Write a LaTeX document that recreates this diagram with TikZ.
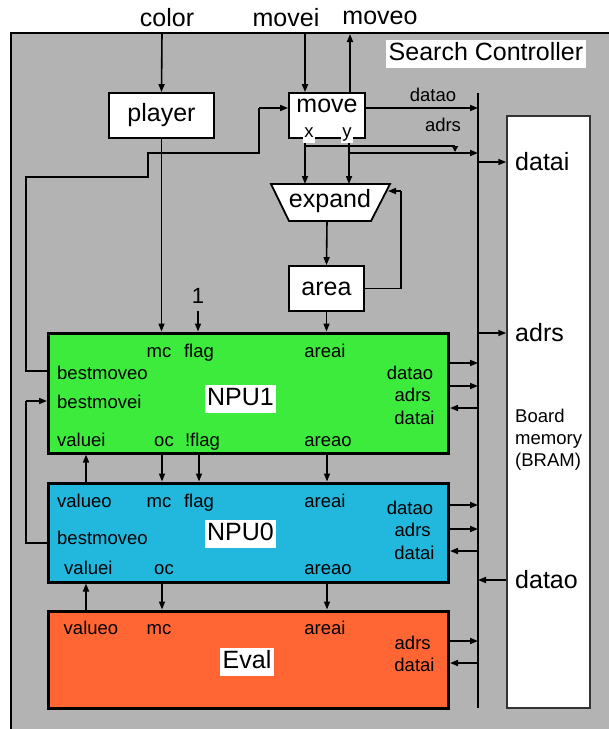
\documentclass[tikz,border=0pt]{standalone}
\usepackage{fontspec}
\setmainfont{Liberation Sans}
\usetikzlibrary{arrows.meta}
\definecolor{bggray}{HTML}{B3B3B3}
\definecolor{npugreen}{HTML}{3DEB3D}
\definecolor{npucyan}{HTML}{22B8DD}
\definecolor{evalorange}{HTML}{FF6633}
\begin{document}
\begin{tikzpicture}[x=1pt,y=-1pt,
  bigtxt/.style={font=\fontsize{25}{28}\selectfont, inner sep=0pt},
  smalltxt/.style={font=\fontsize{18.5}{22}\selectfont, inner sep=0pt, text height=13.3pt, text depth=0pt},
  wbox/.style={draw=black, line width=1.8pt, fill=white, inner sep=0pt},
  unitbox/.style={draw=black, line width=3pt, inner sep=0pt, minimum width=400pt},
  tag/.style={bigtxt, fill=white, inner sep=2.5pt, text height=18pt, text depth=5pt},
  arr/.style={line width=1.6pt, -{Triangle[length=8pt,width=6pt]}},
  wire/.style={line width=1.6pt},
]
\useasboundingbox (0,0) rectangle (609,729);
% frame of the search controller
\fill[bggray] (11,33) rectangle (609,729);
\draw[line width=2pt] (609,33) -- (11,33) -- (11,729);

% outer labels
\node[bigtxt] (color) at (167,18) {color};
\node[bigtxt] (movei) at (286,18) {movei};
\node[bigtxt] (moveo) at (380,18) {moveo};
\node[tag] (sc) at (486,53.5) {Search Controller};

% coordinates
\coordinate (colorIn) at (162,33);
\coordinate (moveiIn) at (305,33);
\coordinate (moveoOut) at (350,34);
\coordinate (busT) at (478,93);
\coordinate (busB) at (478,708);
\coordinate (mx) at (305,138);
\coordinate (my) at (349,138);
\coordinate (expTop) at (327,184);
\coordinate (expBot) at (327,221);
\coordinate (expFb) at (388,191);
\coordinate (fbC) at (401,191);
\coordinate (hX) at (305,146);
\coordinate (adrT) at (455,152);
\coordinate (hY) at (349,153);
\coordinate (lp1) at (26,177);
\coordinate (lp2) at (148,153);
\coordinate (lp3) at (259,108);
\coordinate (lp4) at (26,401);
\coordinate (oneA) at (198,311);
\coordinate (colVa) at (86,0);
\coordinate (colMc) at (162,0);
\coordinate (colFl) at (199,0);
\coordinate (colAr) at (327,0);
\coordinate (bDo) at (478,108);
\coordinate (bA) at (478,153);
\coordinate (bDi) at (478,162);
\coordinate (bAd) at (478,333);
\coordinate (bMo) at (478,580);
\coordinate (b1a) at (478,363);
\coordinate (b1b) at (478,386);
\coordinate (b1c) at (478,408);
\coordinate (b0a) at (478,505);
\coordinate (b0b) at (478,529);
\coordinate (b0c) at (478,551);
\coordinate (bea) at (478,641);
\coordinate (beb) at (478,663);
\coordinate (bmoA) at (0,371);
\coordinate (bmoB) at (0,543);

% board memory
\node[draw=black!80, line width=1.5pt, fill=white, minimum width=83pt, minimum height=592pt] (mem) at (548.5,412) {};
\node[bigtxt, anchor=west] (mdatai) at (515,162) {datai};
\node[bigtxt, anchor=west] (madrs) at (515,333) {adrs};
\node[bigtxt, anchor=west] (mdatao) at (515,580) {datao};
\node[font=\fontsize{18.5}{22}\selectfont, inner sep=0pt, align=left, anchor=west] (mlbl) at (515,440) {Board\\memory\\(BRAM)};

% bus
\draw[wire] (busT) -- (busB);

% small boxes
\node[wbox, bigtxt, minimum width=105pt, minimum height=45pt] (player) at (161.5,115.5) {player};
\node[wbox, minimum width=76pt, minimum height=45pt] (move) at (327,115.5) {};
\node[bigtxt] (movetxt) at (327,106) {move};
\draw[wbox] (271,184) -- (390,184) -- (371,221) -- (289,221) -- cycle;
\node[bigtxt] (expand) at (330,201) {expand};
\node[wbox, bigtxt, minimum width=75pt, minimum height=45pt] (area) at (326.5,288.5) {area};
\node[font=\fontsize{22}{24}\selectfont, inner sep=0pt] (one) at (198,296) {1};

% top connectors
\draw[arr] (colorIn) -- (player.north);
\draw[arr] (moveiIn) -- (moveiIn |- move.north);
\draw[arr] (moveoOut |- move.north) -- (moveoOut);
\draw[arr] (move.east |- bDo) -- (bDo);
\node[smalltxt] (tdatao) at (433,95) {datao};
\node[smalltxt] (tadrs) at (443,125) {adrs};
\draw[arr] (mx) -- (mx |- expTop);
\draw[arr] (my) -- (my |- expTop);
\draw[wire] (hX) -- (hX -| adrT);
\draw[line width=1.6pt, -{Triangle[length=6pt,width=6pt]}] (hX -| adrT) -- (adrT);
\draw[arr] (hY) -- (bA);
\node[smalltxt, fill=white, inner xsep=1pt, inner ysep=1pt, text depth=3.7pt] (xl) at (309,133) {x};
\node[smalltxt, fill=white, inner xsep=1pt, inner ysep=1pt, text depth=3.7pt] (yl) at (347,133) {y};
\draw[arr] (bDi) -- (mem.west |- bDi);
\draw[arr] (bAd) -- (mem.west |- bAd);
\draw[arr] (mem.west |- bMo) -- (bMo);

% expand / area
\draw[arr] (expBot) -- (area.north);
\draw[wire] (area.east) -| (fbC);
\draw[arr] (fbC) -- (expFb);

% units
\node[unitbox, fill=npugreen, minimum height=120pt] (npu1) at (248.5,393) {};
\node[unitbox, fill=npucyan, minimum height=99pt] (npu0) at (248.5,532.5) {};
\node[unitbox, fill=evalorange, minimum height=97pt] (eval) at (248.5,659.5) {};

\draw[arr] (player.south) -- (player.south |- npu1.north);
\draw[arr] (area.south) -- (area.south |- npu1.north);
\draw[arr] (oneA) -- (oneA |- npu1.north);

% left loops
\draw[wire] (npu1.west |- bmoA) -| (lp1) -| (lp2) -| (lp3);
\draw[arr] (lp3) -- (move.west |- lp3);
\draw[wire] (npu0.west |- bmoB) -| (lp4);
\draw[arr] (lp4) -- (npu1.west |- lp4);

% between units
\draw[arr] (npu0.north -| colVa) -- (npu1.south -| colVa);
\draw[arr] (npu1.south -| colMc) -- (npu0.north -| colMc);
\draw[arr] (npu1.south -| colFl) -- (npu0.north -| colFl);
\draw[arr] (npu1.south -| colAr) -- (npu0.north -| colAr);
\draw[arr] (eval.north -| colVa) -- (npu0.south -| colVa);
\draw[arr] (npu0.south -| colMc) -- (eval.north -| colMc);
\draw[arr] (npu0.south -| colAr) -- (eval.north -| colAr);

% bus links of units
\draw[arr] (npu1.east |- b1a) -- (b1a);
\draw[arr] (npu1.east |- b1b) -- (b1b);
\draw[arr] (b1c) -- (npu1.east |- b1c);
\draw[arr] (npu0.east |- b0a) -- (b0a);
\draw[arr] (npu0.east |- b0b) -- (b0b);
\draw[arr] (b0c) -- (npu0.east |- b0c);
\draw[arr] (eval.east |- bea) -- (bea);
\draw[arr] (beb) -- (eval.east |- beb);

% NPU1 labels
\node[tag] (n1) at (240.5,398.5) {NPU1};
\node[smalltxt] (n1mc) at (159,351) {mc};
\node[smalltxt] (n1fl) at (199,351) {flag};
\node[smalltxt] (n1ar) at (325,351) {areai};
\node[smalltxt, anchor=west] (n1bo) at (57,373) {bestmoveo};
\node[smalltxt, anchor=west] (n1bi) at (57,402) {bestmovei};
\node[smalltxt, anchor=west] (n1vi) at (57,440) {valuei};
\node[smalltxt] (n1oc) at (164,440) {oc};
\node[smalltxt] (n1nf) at (202.5,440) {!flag};
\node[smalltxt] (n1ao) at (328,440) {areao};
\node[smalltxt] (n1do) at (410,373) {datao};
\node[smalltxt] (n1ad) at (412.7,395) {adrs};
\node[smalltxt] (n1di) at (414.5,418) {datai};

% NPU0 labels
\node[tag] (n0) at (240.5,534) {NPU0};
\node[smalltxt, anchor=west] (n0vo) at (57,501) {valueo};
\node[smalltxt] (n0mc) at (159,501) {mc};
\node[smalltxt] (n0fl) at (199,501) {flag};
\node[smalltxt] (n0ar) at (325,501) {areai};
\node[smalltxt, anchor=west] (n0bo) at (57,538) {bestmoveo};
\node[smalltxt] (n0vi) at (88.4,568) {valuei};
\node[smalltxt] (n0oc) at (164,568) {oc};
\node[smalltxt] (n0ao) at (328,568) {areao};
\node[smalltxt] (n0do) at (410,508) {datao};
\node[smalltxt] (n0ad) at (412.7,530) {adrs};
\node[smalltxt] (n0di) at (414.5,553) {datai};

% Eval labels
\node[tag] (ev) at (247,662) {Eval};
\node[smalltxt] (evvo) at (91,628) {valueo};
\node[smalltxt] (evmc) at (159,628) {mc};
\node[smalltxt] (evar) at (325,628) {areai};
\node[smalltxt] (evad) at (412.7,643) {adrs};
\node[smalltxt] (evdi) at (414.5,665) {datai};
\end{tikzpicture}
\end{document}
